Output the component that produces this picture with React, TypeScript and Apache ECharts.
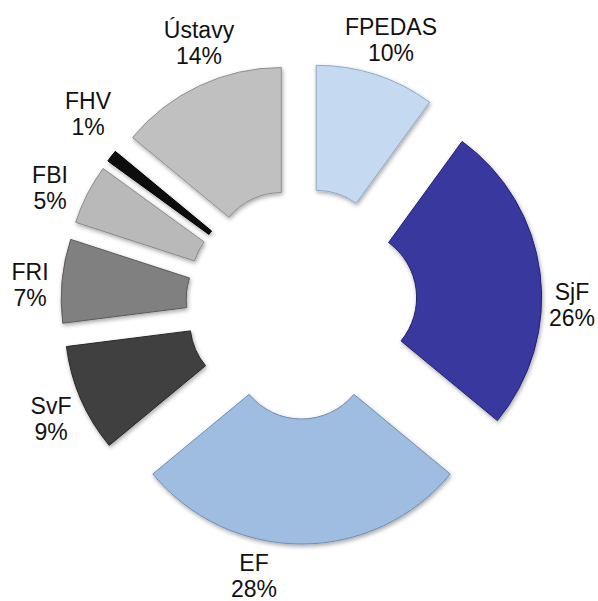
import React, { useEffect, useRef } from "react";
import * as echarts from "echarts";

// Data (clockwise from 12 o'clock)
const categories = ["FPEDAS", "SjF", "EF", "SvF", "FRI", "FBI", "FHV", "Ústavy"];
const shares = [10, 26, 28, 9, 7, 5, 1, 14];

// Styling
const sliceColors = ["#c5d9f0", "#37389f", "#9fbde1", "#404040", "#808080", "#b9b9b9", "#111111", "#c0c0c0"];
const sliceBorders = ["#8fa9c8", "#22236a", "#6f8db3", "#262626", "#5a5a5a", "#8a8a8a", "#000000", "#8f8f8f"];
// label block centres (manually placed labels, as in the original)
const labelCenters: [number, number][] = [
  [391, 40],
  [572, 305],
  [254, 576],
  [51, 419],
  [30, 285],
  [50, 188],
  [88, 114],
  [199, 43],
];

export default function App() {
  const ref = useRef<HTMLDivElement>(null);
  useEffect(() => {
    const chart = echarts.init(ref.current!, null, { renderer: "svg" });
    const common = {
      type: "pie",
      center: [301.5, 303.5],
      radius: [68, 193],
      startAngle: 90,
      clockwise: true,
      avoidLabelOverlap: false,
      emphasis: { disabled: true },
    };
    chart.setOption({
      animation: false,
      backgroundColor: "#ffffff",
      series: [
        {
          ...common,
          selectedMode: "multiple",
          selectedOffset: 47.5,
          data: categories.map((name, i) => ({
            name,
            value: shares[i],
            selected: true,
            itemStyle: {
              color: sliceColors[i],
              borderColor: sliceBorders[i],
              borderWidth: 1,
              shadowBlur: 4,
              shadowColor: "rgba(0,0,0,0.35)",
              shadowOffsetX: 1,
              shadowOffsetY: 2,
            },
          })),
          label: { show: false },
          labelLine: { show: false },
        },
        {
          ...common,
          silent: true,
          selectedMode: false,
          itemStyle: { color: "rgba(0,0,0,0)" },
          data: categories.map((name, i) => ({ name, value: shares[i] })),
          label: {
            show: true,
            formatter: (p: any) => `${p.name}\n${Math.round(p.percent)}%`,
            fontSize: 23,
            lineHeight: 26,
            color: "#111111",
            fontFamily: "'Liberation Sans', Arial, sans-serif",
            align: "center",
          },
          labelLine: { show: false },
          labelLayout: (params: any) => ({
            x: labelCenters[params.dataIndex][0],
            y: labelCenters[params.dataIndex][1],
            align: "center",
            verticalAlign: "middle",
          }),
        },
      ],
    });
    return () => chart.dispose();
  }, []);
  return (
    <div
      ref={ref}
      style={{ position: "absolute", left: 0, top: 0, width: 598, height: 601 }}
    />
  );
}
